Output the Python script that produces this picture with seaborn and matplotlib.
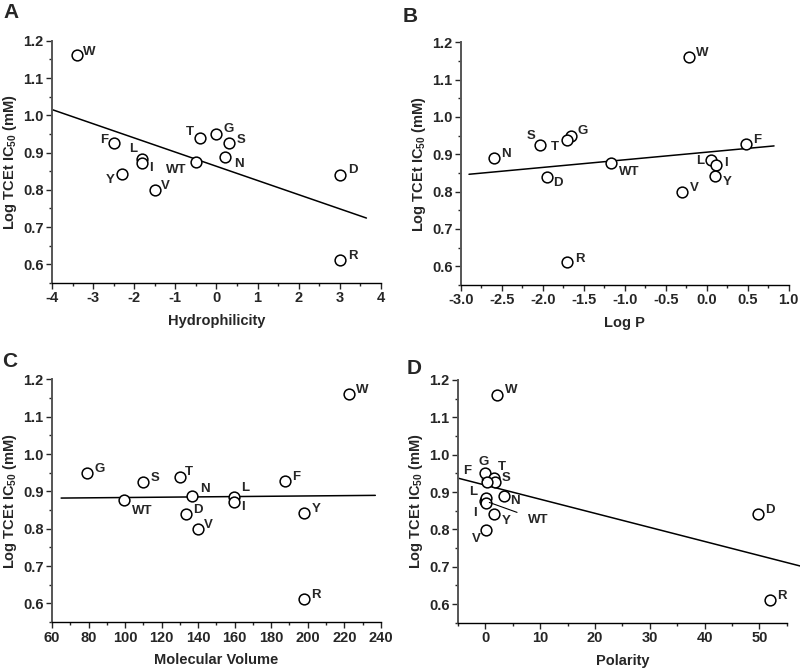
import numpy as np
import matplotlib
matplotlib.use("Agg")
import matplotlib.pyplot as plt
import seaborn as sns
from matplotlib.ticker import MultipleLocator, FormatStrFormatter

# residue labels and measured log TCEt IC50 (mM)
residues = ['W', 'G', 'T', 'S', 'F', 'N', 'WT', 'L', 'I', 'Y', 'D', 'V', 'R']
log_ic50 = [1.161, 0.950, 0.939, 0.926, 0.927, 0.889, 0.876, 0.884, 0.871, 0.842, 0.840, 0.799, 0.611]

# physico-chemical properties of each residue
hydrophilicity = [-3.4, 0.0, -0.4, 0.3, -2.5, 0.2, -0.5, -1.8, -1.8, -2.3, 3.0, -1.5, 3.0]
log_p = [-0.215, -1.66, -1.71, -2.03, 0.48, -2.59, -1.17, 0.05, 0.11, 0.10, -1.95, -0.30, -1.70]
mol_volume = [222.5, 79.2, 129.9, 109.8, 187.4, 136.9, 99.4, 159.7, 159.7, 197.8, 133.6, 139.8, 198.0]
polarity = [2.10, 0.0, 1.66, 1.67, 0.35, 3.38, 0.0, 0.13, 0.13, 1.61, 49.7, 0.13, 52.0]

sns.set_style("ticks")
plt.rcParams['font.family'] = ['Liberation Sans', 'DejaVu Sans']
plt.rcParams['font.weight'] = 'bold'
plt.rcParams['axes.labelweight'] = 'bold'
plt.rcParams['mathtext.fontset'] = 'custom'
plt.rcParams['mathtext.rm'] = 'Liberation Sans:bold'
plt.rcParams['mathtext.bf'] = 'Liberation Sans:bold'

# label offsets in pixels (dx, dy) relative to each point
offsets = {
    'A': {'W': (13, 3), 'G': (12, 5), 'T': (-10, 6), 'S': (12, 3), 'F': (-9, 3), 'N': (14, -7),
          'WT': (-20, -8), 'L': (-9, 10), 'I': (9, -5), 'Y': (-12, -6), 'D': (13, 5), 'V': (11, 4), 'R': (13, 4)},
    'B': {'W': (13, 4), 'G': (12, 5), 'T': (-12, -7), 'S': (-9, 9), 'F': (11, 4), 'N': (12, 4),
          'WT': (18, -9), 'L': (-11, -1), 'I': (10, 2), 'Y': (12, -6), 'D': (11, -6), 'V': (12, 4), 'R': (12, 3)},
    'C': {'W': (13, 4), 'G': (13, 4), 'T': (9, 5), 'S': (12, 4), 'F': (11, 4), 'N': (12, 7),
          'WT': (18, -11), 'L': (11, 9), 'I': (9, -5), 'Y': (12, 4), 'D': (11, 4), 'V': (11, 4), 'R': (12, 4)},
    'D': {'W': (14, 5), 'G': (-2, 11), 'T': (7, 11), 'S': (11, 4), 'F': (-20, 11), 'N': (11, -5),
          'WT': (53, -19), 'L': (-13, 6), 'I': (-11, -10), 'Y': (12, -7), 'D': (12, 4), 'V': (-10, -9), 'R': (12, 4)},
}
leaders = {'D': ['F', 'WT']}

panels = [
    ('A', hydrophilicity, 'Hydrophilicity', (-4, 4), 1, 0.5, '%d', (-4, 3.65), [0.065, 0.577, 0.411, 0.362]),
    ('B', log_p, 'Log P', (-3, 1), 0.5, 0.25, '%.1f', (-2.9, 0.82), [0.576, 0.574, 0.410, 0.363]),
    ('C', mol_volume, 'Molecular Volume', (60, 240), 20, 10, '%d', (65, 237), [0.065, 0.070, 0.411, 0.363]),
    ('D', polarity, 'Polarity', (-5, 55), 10, 5, '%d', (-5, 57.5), [0.5725, 0.069, 0.411, 0.363]),
]
letter_pos = {'A': (0.004, 0.995), 'B': (0.503, 0.99), 'C': (0.003, 0.474), 'D': (0.508, 0.464)}

fig = plt.figure(figsize=(8, 6.69), dpi=100)

for name, xvals, xlabel, xlim, major, minor, fmt, line_x, rect in panels:
    ax = fig.add_axes(rect)
    x = np.array(xvals)
    y = np.array(log_ic50)

    # linear regression line
    slope, intercept = np.polyfit(x, y, 1)
    lx = np.array(line_x)
    ax.plot(lx, slope * lx + intercept, color='black', lw=1.1, clip_on=False, zorder=2)

    sns.scatterplot(x=x, y=y, ax=ax, s=60, color='white', edgecolor='black',
                    linewidth=1.1, zorder=3, clip_on=False)

    for r, xi, yi in zip(residues, x, y):
        dx, dy = offsets[name][r]
        if r in leaders.get(name, []):
            ax.annotate(r, (xi, yi), xytext=(dx, dy), textcoords='offset pixels',
                        ha='center', va='center', fontsize=9.5, fontweight='bold',
                        arrowprops=dict(arrowstyle='-', color='black', lw=0.8,
                                        shrinkA=6, shrinkB=3), zorder=4)
        else:
            ax.annotate(r, (xi, yi), xytext=(dx, dy), textcoords='offset pixels',
                        ha='center', va='center', fontsize=9.5, fontweight='bold', zorder=4)

    ax.set_xlim(*xlim)
    ax.set_ylim(0.55, 1.2)
    ax.xaxis.set_major_locator(MultipleLocator(major))
    ax.xaxis.set_minor_locator(MultipleLocator(minor))
    ax.xaxis.set_major_formatter(FormatStrFormatter(fmt))
    if name == 'D':
        ax.set_xticks([0, 10, 20, 30, 40, 50])
    ax.yaxis.set_major_locator(MultipleLocator(0.1))
    ax.yaxis.set_minor_locator(MultipleLocator(0.05))
    ax.yaxis.set_major_formatter(FormatStrFormatter('%.1f'))

    sns.despine(ax=ax)
    ax.spines['left'].set_color('#555555')
    ax.spines['left'].set_linewidth(1.4)
    ax.spines['bottom'].set_color('black')
    ax.spines['bottom'].set_linewidth(1.0)
    ax.tick_params(which='major', direction='out', length=4, width=1, labelsize=10.5, pad=2)
    ax.tick_params(which='minor', direction='out', length=2.5, width=1)
    for lbl in ax.get_xticklabels() + ax.get_yticklabels():
        lbl.set_fontweight('bold')

    ax.set_xlabel(xlabel, fontsize=10.5, fontweight='bold', labelpad=6)
    ax.set_ylabel('Log TCEt IC$_{50}$ (mM)', fontsize=10.5, fontweight='bold', labelpad=3)

    lx_, ly_ = letter_pos[name]
    fig.text(lx_, ly_, name, fontsize=15, fontweight='bold', ha='left', va='top')

fig.savefig('out.png', dpi=100)
